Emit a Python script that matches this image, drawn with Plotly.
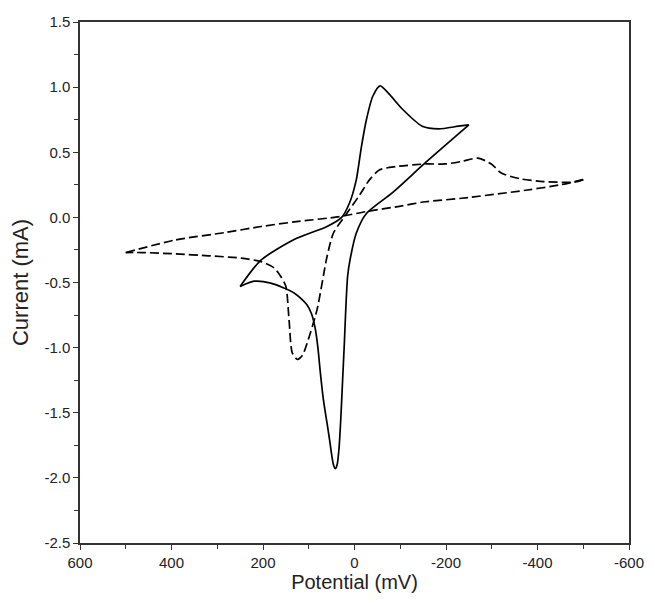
import plotly.graph_objects as go

# solid CV, forward scan (250 mV -> -250 mV)
solid_fwd_x = [250, 205, 132, 60, 28, 11, -4, -15, -26, -40, -56, -75, -105, -148, -184, -227, -250]
solid_fwd_y = [-0.53, -0.33, -0.17, -0.07, 0.0, 0.11, 0.29, 0.54, 0.75, 0.93, 1.01, 0.95, 0.83, 0.70, 0.68, 0.70, 0.71]
# solid CV, reverse scan (-250 mV -> 250 mV)
solid_rev_x = [-250, -155, -83, -26, -4, 10, 15, 19, 22, 26, 30, 34, 38, 42, 46, 50, 54, 60, 68, 75, 80, 86, 94, 104,
               132, 183, 219, 250]
solid_rev_y = [0.71, 0.42, 0.19, 0.03, -0.12, -0.33, -0.45, -0.70, -0.95, -1.25, -1.55, -1.78, -1.90, -1.93, -1.90,
               -1.82, -1.72, -1.58, -1.40, -1.18, -1.00, -0.85, -0.74, -0.67, -0.58, -0.505, -0.49, -0.53]

# dashed CV, forward scan (500 mV -> -500 mV)
dash_fwd_x = [500, 391, 280, 204, 132, 32, -26, -98, -155, -235, -378, -450, -500]
dash_fwd_y = [-0.27, -0.173, -0.115, -0.07, -0.035, 0.006, 0.045, 0.085, 0.12, 0.147, 0.21, 0.25, 0.29]
# dashed CV, reverse scan (-500 mV -> 500 mV)
dash_rev_x = [-500, -479, -414, -364, -321, -299, -270, -235, -199, -155, -91, -55, -33, -11, 17, 46, 60, 82, 104,
              114, 125, 136, 143, 150, 160, 175, 204, 248, 319, 391, 463, 500]
dash_rev_y = [0.29, 0.27, 0.275, 0.295, 0.34, 0.41, 0.455, 0.43, 0.41, 0.41, 0.39, 0.365, 0.29, 0.17, 0.03, -0.12,
              -0.30, -0.71, -0.97, -1.06, -1.09, -1.04, -0.79, -0.53, -0.46, -0.39, -0.34, -0.313, -0.295, -0.28,
              -0.27, -0.27]

x_ticks = [600, 400, 200, 0, -200, -400, -600]
x_tick_text = ['600', '400', '200', '0', '-200', '-400', '-600']
y_ticks = [1.5, 1.0, 0.5, 0.0, -0.5, -1.0, -1.5, -2.0, -2.5]
y_tick_text = ['1.5', '1.0', '0.5', '0.0', '-0.5', '-1.0', '-1.5', '-2.0', '-2.5']

fig = go.Figure()

for xs, ys in [(solid_fwd_x, solid_fwd_y), (solid_rev_x, solid_rev_y)]:
    fig.add_trace(go.Scatter(
        x=xs, y=ys, mode='lines',
        line=dict(color='black', width=1.7, shape='spline', smoothing=0.7),
        showlegend=False
    ))

for xs, ys in [(dash_fwd_x, dash_fwd_y), (dash_rev_x, dash_rev_y)]:
    fig.add_trace(go.Scatter(
        x=xs, y=ys, mode='lines',
        line=dict(color='black', width=1.7, dash='9px,4px', shape='spline', smoothing=0.7),
        showlegend=False
    ))

font_family = 'Liberation Sans, Arial, sans-serif'
tick_font = dict(family=font_family, size=15, color='#222')

fig.update_xaxes(
    range=[600, -600], tickvals=x_ticks, ticktext=x_tick_text,
    showline=True, mirror=True, linecolor='#333', linewidth=1.5,
    ticks='outside', ticklen=5, tickwidth=1.2, tickcolor='#333',
    minor=dict(dtick=100, ticks='outside', ticklen=4, tickcolor='#333'),
    showgrid=False, zeroline=False, tickfont=tick_font, automargin=False,
    title=dict(text='Potential (mV)', font=dict(family=font_family, size=20, color='#222'), standoff=4)
)
fig.update_yaxes(
    range=[-2.5, 1.5], tickvals=y_ticks, ticktext=y_tick_text,
    showline=True, mirror=True, linecolor='#333', linewidth=1.5,
    ticks='outside', ticklen=5, tickwidth=1.2, tickcolor='#333',
    minor=dict(dtick=0.25, ticks='outside', ticklen=4, tickcolor='#333'),
    showgrid=False, zeroline=False, tickfont=tick_font, automargin=False,
    title=dict(text='Current (mA)', font=dict(family=font_family, size=22, color='#222'), standoff=10)
)

# the page puts the figure 8px in from the top-left corner, and the right
# edge of the view is cut, so keep the figure a bit smaller than the window
fig.update_layout(
    width=639, height=587,
    margin=dict(l=72, r=18, t=14, b=52),
    plot_bgcolor='white', paper_bgcolor='white'
)

fig.write_html("out.html")
